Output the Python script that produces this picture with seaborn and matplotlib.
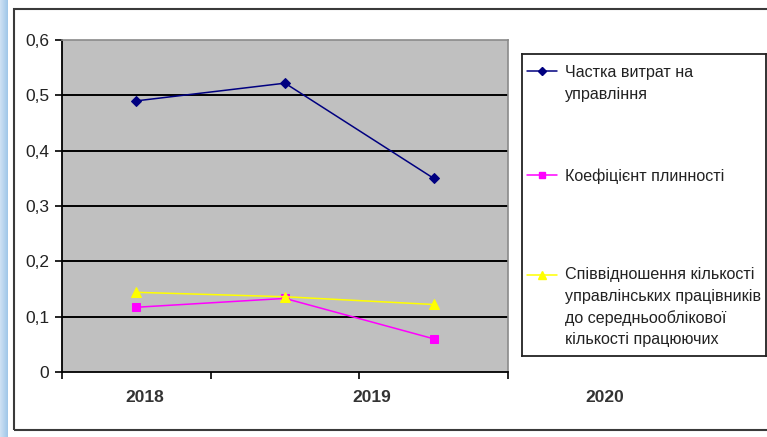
import numpy as np
import pandas as pd
import matplotlib
matplotlib.use("Agg")
import matplotlib.pyplot as plt
from matplotlib.patches import Rectangle
from matplotlib.ticker import FuncFormatter, FixedLocator
import seaborn as sns

# ---- data -------------------------------------------------------------
years = ["2018", "2019", "2020"]
share_mgmt_costs = [0.49, 0.522, 0.35]        # Частка витрат на управління
turnover_ratio = [0.117, 0.133, 0.06]         # Коефіцієнт плинності
mgmt_staff_ratio = [0.144, 0.136, 0.122]      # Співвідношення кількості ...

series_labels = [
    ["Частка витрат на", "управління"],
    ["Коефіцієнт плинності"],
    ["Співвідношення кількості", "управлінських працівників",
     "до середньооблікової", "кількості працюючих"],
]
y_ticks = [0, 0.1, 0.2, 0.3, 0.4, 0.5, 0.6]

# ---- style ------------------------------------------------------------
sns.set_theme(style="white")
FAM = ["Liberation Sans", "DejaVu Sans"]
plt.rcParams["font.family"] = FAM

W, H = 767, 437
fig = plt.figure(figsize=(W / 100, H / 100), dpi=100, facecolor="white")


def fx(px):
    return px / W


def fy(py):
    return 1 - py / H


# light-blue strip on the far left
strip = fig.add_axes([0, 0, fx(8), 1])
grad = np.linspace(0, 1, 50)[None, :]
strip.imshow(grad, aspect="auto", extent=[0, 1, 0, 1],
             cmap=matplotlib.colors.LinearSegmentedColormap.from_list(
                 "strip", ["#cfe2f4", "#9fc6e8"]))
strip.set_axis_off()

# outer chart frame
fig.patches.append(Rectangle((fx(14), fy(430)), fx(790) - fx(14), fy(9) - fy(430),
                             transform=fig.transFigure, fill=False,
                             edgecolor="#3a3a3a", linewidth=1.5, zorder=0))

# ---- plot area --------------------------------------------------------
ax = fig.add_axes([fx(62), fy(372), fx(508) - fx(62), fy(40) - fy(372)])
ax.set_facecolor("#c0c0c0")

pos = np.arange(len(years))
styles = [
    (share_mgmt_costs, "#000080", "D", 5),
    (turnover_ratio, "#ff00ff", "s", 6),
    (mgmt_staff_ratio, "#ffff00", "^", 7),
]
for vals, col, mk, ms in styles:
    df = pd.DataFrame({"pos": pos, "value": vals})
    sns.lineplot(data=df, x="pos", y="value", ax=ax, color=col, marker=mk,
                 markersize=ms, markeredgecolor=col, linewidth=1.1,
                 legend=False, zorder=3)

ax.set_xlim(-0.5, len(years) - 0.5)
ax.set_ylim(0, 0.6)
ax.set_xlabel("")
ax.set_ylabel("")

ax.yaxis.set_major_locator(FixedLocator(y_ticks))
ax.yaxis.set_major_formatter(FuncFormatter(
    lambda v, _: "0" if abs(v) < 1e-9 else f"{v:.1f}".replace(".", ",")))
for y in y_ticks[1:-1]:
    ax.axhline(y, color="black", linewidth=1.4, zorder=1)

ax.xaxis.set_major_locator(FixedLocator(np.arange(len(years) + 1) - 0.5))
ax.set_xticklabels([""] * (len(years) + 1))
ax.tick_params(axis="both", which="major", direction="out", length=5,
               width=1.2, color="black", bottom=True, left=True)
ax.tick_params(axis="y", labelsize=12.5, labelcolor="#222222", pad=4)

for side in ("left", "bottom"):
    ax.spines[side].set_color("black")
    ax.spines[side].set_linewidth(1.3)
for side in ("top", "right"):
    ax.spines[side].set_visible(True)
    ax.spines[side].set_color("#8a8a8a")
    ax.spines[side].set_linewidth(1.2)

# category captions under the axis
year_x = [0.186, 0.695, 1.217]
for xx, lab in zip(year_x, years):
    ax.text(xx, -0.078, lab, transform=ax.transAxes, ha="center", va="center",
            fontsize=12.5, fontweight="bold", color="#333333")

# ---- legend -----------------------------------------------------------
lax = fig.add_axes([fx(522), fy(356), fx(766) - fx(522), fy(54) - fy(356)])
lax.set_xlim(522, 766)
lax.set_ylim(356, 54)
lax.set_xticks([])
lax.set_yticks([])
lax.set_facecolor("white")
for s in lax.spines.values():
    s.set_visible(True)
    s.set_color("#222222")
    s.set_linewidth(1.3)

entry_y = [71, 175, 275]
line_gap = 21.8
baseline_first = [77, 181, 279]
for (vals, col, mk, ms), lines, ym, yb in zip(styles, series_labels, entry_y, baseline_first):
    lax.plot([527, 557], [ym, ym], color=col, linewidth=1.1)
    lax.plot([542], [ym], color=col, marker=mk, markersize=ms - 1,
             markeredgecolor=col)
    for i, ln in enumerate(lines):
        lax.text(565, yb + i * line_gap, ln, ha="left", va="baseline",
                 fontsize=11.6, color="#222222")

fig.savefig("out.png", dpi=100, facecolor="white")
